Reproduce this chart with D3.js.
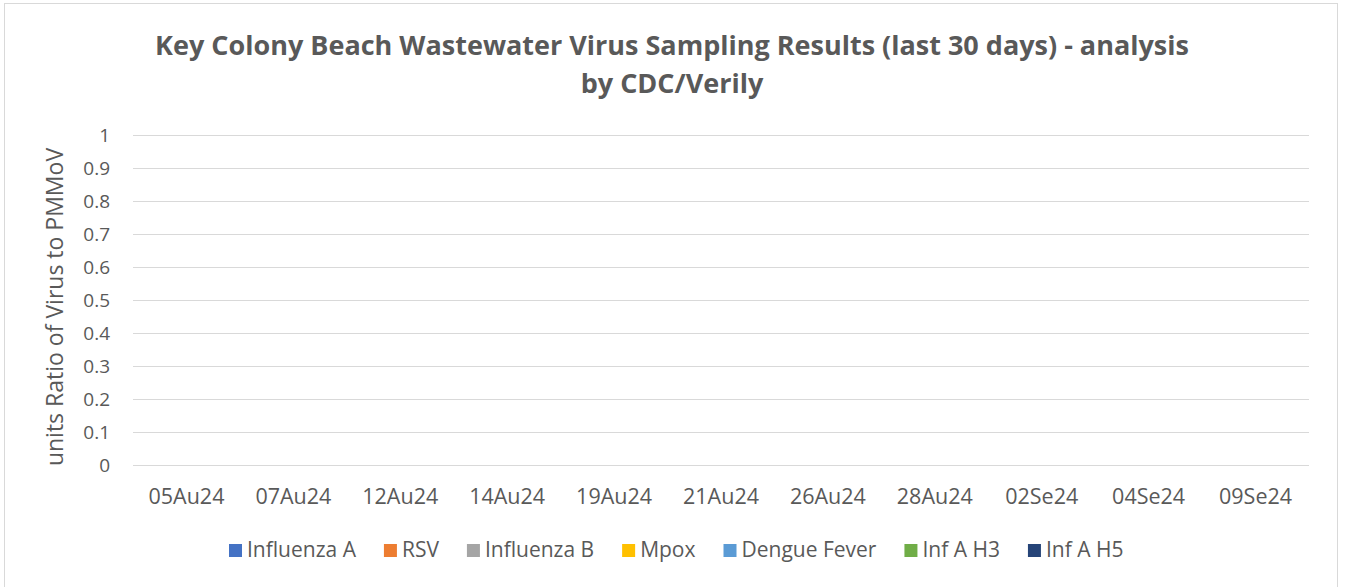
<!DOCTYPE html>
<html>
<head>
<meta charset="utf-8">
<script src="https://cdn.jsdelivr.net/npm/d3@7"></script>
<style>
  body { margin: 0; background: #fff; }
  text { font-family: "Open Sans", "Noto Sans", sans-serif; fill: #595959; }
</style>
</head>
<body>
<div id="chart"></div>
<script>
// chart data
const dates = ["05Au24","07Au24","12Au24","14Au24","19Au24","21Au24","26Au24","28Au24","02Se24","04Se24","09Se24"];
const seriesNames = ["Influenza A","RSV","Influenza B","Mpox","Dengue Fever","Inf A H3","Inf A H5"];
const seriesColors = ["#4472C4","#ED7D31","#A5A5A5","#FFC000","#5B9BD5","#70AD47","#264478"];
// every sample read as zero in the picture
const influenzaA = [0,0,0,0,0,0,0,0,0,0,0];
const rsv = [0,0,0,0,0,0,0,0,0,0,0];
const influenzaB = [0,0,0,0,0,0,0,0,0,0,0];
const mpox = [0,0,0,0,0,0,0,0,0,0,0];
const dengue = [0,0,0,0,0,0,0,0,0,0,0];
const infAH3 = [0,0,0,0,0,0,0,0,0,0,0];
const infAH5 = [0,0,0,0,0,0,0,0,0,0,0];
const yTicks = [0,0.1,0.2,0.3,0.4,0.5,0.6,0.7,0.8,0.9,1];

const allSeries = [influenzaA, rsv, influenzaB, mpox, dengue, infAH3, infAH5];

const width = 1345, height = 587;
const margin = {top: 135, right: 36, bottom: 122, left: 133};

const svg = d3.select("#chart").append("svg").attr("width", width).attr("height", height);

// outer chart border
svg.append("rect")
    .attr("x", 4.5).attr("y", 3.5)
    .attr("width", 1333).attr("height", 600)
    .attr("fill", "white").attr("stroke", "#d9d9d9");

const x = d3.scaleBand().domain(dates).range([margin.left, width - margin.right]).paddingInner(0);
const x1 = d3.scaleBand().domain(seriesNames).range([0, x.bandwidth()]).padding(0.05);
const y = d3.scaleLinear().domain([0, 1]).range([height - margin.bottom, margin.top]);

// gridlines
svg.append("g")
    .selectAll("line")
    .data(yTicks)
    .join("line")
    .attr("x1", margin.left).attr("x2", width - margin.right)
    .attr("y1", d => Math.round(y(d)) + 0.5).attr("y2", d => Math.round(y(d)) + 0.5)
    .attr("stroke", "#d9d9d9").attr("stroke-width", 1);

// y tick labels
svg.append("g")
    .selectAll("text")
    .data(yTicks)
    .join("text")
    .attr("x", 110)
    .attr("y", d => y(d))
    .attr("dy", "0.36em")
    .attr("text-anchor", "end")
    .style("font-size", "19px")
    .text(d => d);

// bars (all zero height)
const groups = svg.append("g")
    .selectAll("g")
    .data(dates)
    .join("g")
    .attr("transform", d => `translate(${x(d)},0)`);

groups.selectAll("rect")
    .data((d, i) => seriesNames.map((s, j) => ({s, v: allSeries[j][i]})))
    .join("rect")
    .attr("x", d => x1(d.s))
    .attr("width", x1.bandwidth())
    .attr("y", d => y(d.v))
    .attr("height", d => y(0) - y(d.v))
    .attr("fill", (d, j) => seriesColors[j]);

// x labels
svg.append("g")
    .selectAll("text")
    .data(dates)
    .join("text")
    .attr("x", d => x(d) + x.bandwidth() / 2)
    .attr("y", 504)
    .attr("text-anchor", "middle")
    .style("font-size", "21.5px")
    .text(d => d);

// axis title
svg.append("text")
    .attr("transform", `translate(63,${(y(0) + y(1)) / 2 + 7}) rotate(-90)`)
    .attr("text-anchor", "middle")
    .style("font-size", "23px")
    .text("units Ratio of Virus to PMMoV");

// chart title
const title = svg.append("text")
    .attr("text-anchor", "middle")
    .style("font-size", "27px")
    .style("font-weight", "bold");
title.append("tspan").attr("x", 672).attr("y", 55).text("Key Colony Beach Wastewater Virus Sampling Results (last 30 days) - analysis");
title.append("tspan").attr("x", 672).attr("y", 93).text("by CDC/Verily");

// legend
const legend = svg.append("g");
let lx = 229;
seriesNames.forEach((name, i) => {
  const g = legend.append("g").attr("transform", `translate(${lx},0)`);
  g.append("rect").attr("x", 0).attr("y", 544).attr("width", 13).attr("height", 13).attr("fill", seriesColors[i]);
  const t = g.append("text").attr("x", 18).attr("y", 557).style("font-size", "21px").text(name);
  lx += 18 + t.node().getComputedTextLength() + 28;
});
</script>
</body>
</html>
